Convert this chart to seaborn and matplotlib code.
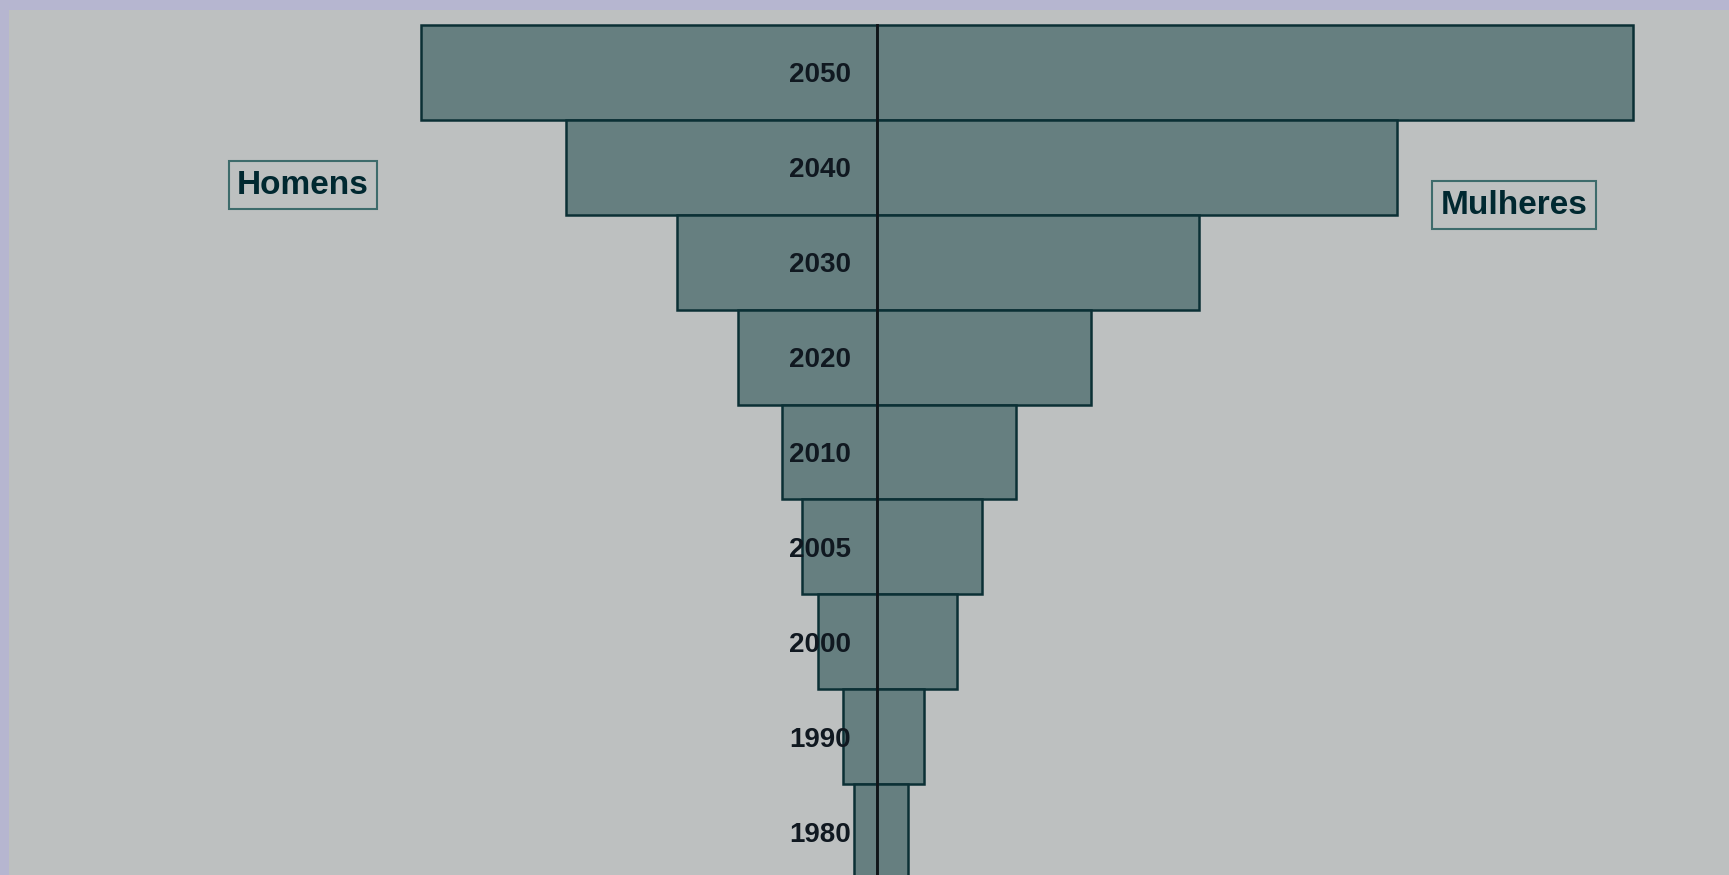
import pandas as pd
import seaborn as sns
import matplotlib.pyplot as plt

# dados (escala arbitraria, largura das barras)
anos = ['2050', '2040', '2030', '2020', '2010', '2005', '2000', '1990', '1980']
homens = [456, 311, 200, 139, 95, 75, 59, 34, 23]
mulheres = [756, 520, 322, 214, 139, 105, 80, 47, 31]

df = pd.DataFrame({'ano': anos, 'homens': [-h for h in homens], 'mulheres': mulheres})

cor_barra = '#667f80'
cor_borda = '#0b3035'
cor_texto = '#002830'

sns.set_style('white')
plt.rcParams['font.family'] = ['Liberation Sans', 'DejaVu Sans']

fig = plt.figure(figsize=(17.29, 8.75), dpi=100, facecolor='#b6b6d0')
ax = fig.add_axes([9 / 1729, 0, 1720 / 1729, 865 / 875])
ax.set_facecolor('#bdc0c0')

# piramide: homens a esquerda, mulheres a direita
sns.barplot(data=df, x='homens', y='ano', order=anos, orient='h', color=cor_barra,
            saturation=1, width=1.0, edgecolor=cor_borda, linewidth=1.8, ax=ax)
sns.barplot(data=df, x='mulheres', y='ano', order=anos, orient='h', color=cor_barra,
            saturation=1, width=1.0, edgecolor=cor_borda, linewidth=1.8, ax=ax)

ax.set_xlim(-868, 852)
ax.set_ylim(8.453, -0.653)
ax.set_xlabel('')
ax.set_ylabel('')
ax.set_xticks([])
ax.set_axisbelow(False)  # anos por cima das barras

# eixo central com os anos
for lado in ['top', 'right', 'bottom']:
    ax.spines[lado].set_visible(False)
ax.spines['left'].set_position(('data', 0))
ax.spines['left'].set_bounds(-0.5, 8.453)
ax.spines['left'].set_color('#101418')
ax.spines['left'].set_linewidth(2)
ax.set_yticks(range(len(anos)), labels=anos)
ax.set_yticks([i - 0.5 for i in range(len(anos))], minor=True)
ax.tick_params(axis='y', which='major', length=0, pad=19, labelsize=20, labelcolor='#101820')
ax.tick_params(axis='y', which='minor', length=4, width=1.5, color='#101418', direction='out')
for lbl in ax.get_yticklabels():
    lbl.set_fontweight('bold')

caixa = dict(boxstyle='square,pad=0.25', facecolor='none', edgecolor='#3d6b6b', linewidth=1.5)
ax.text(-574, 1.19, 'Homens', ha='center', va='center', fontsize=24, fontweight='bold',
        color=cor_texto, bbox=caixa)
ax.text(637, 1.40, 'Mulheres', ha='center', va='center', fontsize=24, fontweight='bold',
        color=cor_texto, bbox=caixa)

plt.savefig('out.png', dpi=100, facecolor=fig.get_facecolor())
